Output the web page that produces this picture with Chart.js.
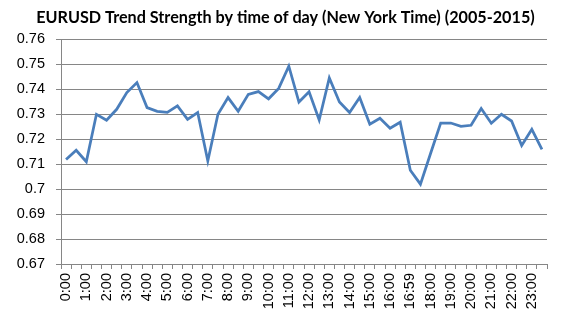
<!DOCTYPE html>
<html>
<head>
<meta charset="utf-8">
<script src="https://cdn.jsdelivr.net/npm/chart.js@4.4.0/dist/chart.umd.min.js"></script>
<style>
  html, body { margin: 0; padding: 0; background: #fff; }
  #wrap { width: 571px; height: 333px; position: relative; }
</style>
</head>
<body>
<div id="wrap"><canvas id="trend"></canvas></div>
<script>
// half-hour slots, New York time (only the full hours get a label)
var times = [
  "0:00", "0:30", "1:00", "1:30", "2:00", "2:30", "3:00", "3:30",
  "4:00", "4:30", "5:00", "5:30", "6:00", "6:30", "7:00", "7:30",
  "8:00", "8:30", "9:00", "9:30", "10:00", "10:30", "11:00", "11:30",
  "12:00", "12:30", "13:00", "13:30", "14:00", "14:30", "15:00", "15:30",
  "16:00", "16:30", "16:59", "17:30", "18:00", "18:30", "19:00", "19:30",
  "20:00", "20:30", "21:00", "21:30", "22:00", "22:30", "23:00", "23:30"
];

var strength = [
  0.7119, 0.7156, 0.7110, 0.7300, 0.7276, 0.7320, 0.7387, 0.7427,
  0.7327, 0.7312, 0.7308, 0.7334, 0.7280, 0.7307, 0.7113, 0.7300,
  0.7367, 0.7312, 0.7380, 0.7391, 0.7362, 0.7404, 0.7493, 0.7349,
  0.7390, 0.7277, 0.7446, 0.7349, 0.7307, 0.7367, 0.7260, 0.7284,
  0.7244, 0.7268, 0.7076, 0.7020, 0.7143, 0.7265, 0.7265, 0.7252,
  0.7256, 0.7323, 0.7264, 0.7300, 0.7273, 0.7175, 0.7240, 0.7159
];

var yMin = 0.67, yMax = 0.76, yStep = 0.01;
var titleText = "EURUSD Trend Strength by time of day (New York Time) (2005-2015)";

var gridGrey = '#868686';
var tickFont = { family: '"Liberation Sans", Arial, sans-serif', size: 14.5 };

var ctx = document.getElementById('trend');

var trendChart = new Chart(ctx, {
  type: 'line',
  data: {
    labels: times,
    datasets: [{
      data: strength,
      borderColor: '#4a7ebb',
      borderWidth: 2.75,
      pointRadius: 0,
      tension: 0,
      fill: false
    }]
  },
  options: {
    responsive: true,
    maintainAspectRatio: false,
    animation: false,
    layout: { padding: 0 },
    plugins: {
      legend: { display: false },
      tooltip: { enabled: false },
      title: {
        display: true,
        text: titleText,
        color: '#000',
        font: { family: 'Lato, "Liberation Sans", sans-serif', size: 16.2, weight: 'bold', lineHeight: 1.2 },
        padding: { top: 8, bottom: 12 }
      }
    },
    scales: {
      x: {
        offset: true,
        afterFit: function (s) { s.height = 69; },
        grid: {
          offset: true,
          drawOnChartArea: false,
          drawTicks: true,
          tickLength: 5,
          color: gridGrey
        },
        border: { color: gridGrey },
        ticks: {
          autoSkip: false,
          maxRotation: 90,
          minRotation: 90,
          padding: 4,
          color: '#000',
          font: tickFont,
          callback: function (v, i) { return i % 2 === 0 ? times[i] : ''; }
        }
      },
      y: {
        min: yMin,
        max: yMax,
        afterFit: function (s) { s.width = 61; },
        grid: { color: gridGrey, tickLength: 5 },
        border: { color: gridGrey },
        ticks: {
          stepSize: yStep,
          padding: 11,
          color: '#000',
          font: tickFont,
          callback: function (v) { return String(+v.toFixed(2)); }
        }
      },
      // empty right-hand axis, only keeps the white margin on the right
      spacer: {
        type: 'linear',
        position: 'right',
        min: yMin,
        max: yMax,
        afterFit: function (s) { s.width = 24; },
        grid: { display: false, drawTicks: false },
        border: { display: false },
        ticks: { display: false }
      }
    }
  }
});
</script>
</body>
</html>
